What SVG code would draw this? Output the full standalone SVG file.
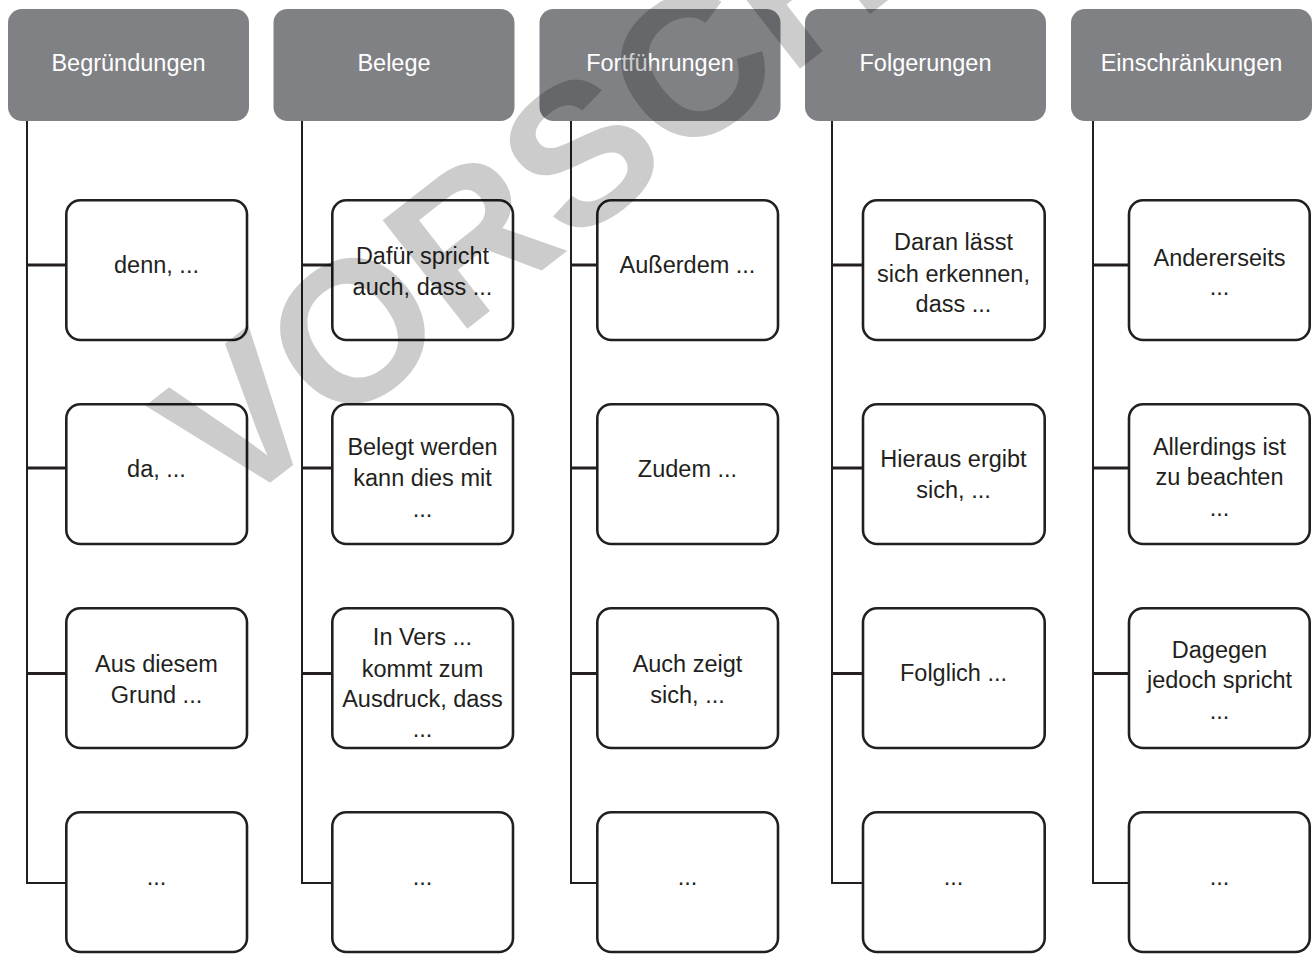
<svg xmlns="http://www.w3.org/2000/svg" width="1316" height="960" viewBox="0 0 1316 960">
  <style>
    .hdr { fill: #808185; }
    .hdr-text { fill: #ffffff; font-family: "Liberation Sans", Arial, sans-serif; font-size: 23.5px; text-anchor: middle; }
    .box { fill: #ffffff; stroke: #231f20; stroke-width: 2.6; }
    .lbl { fill: #231f20; font-family: "Liberation Sans", Arial, sans-serif; font-size: 23.5px; text-anchor: middle; }
    .trunk { stroke: #231f20; stroke-width: 2; fill: none; }
    .branch { stroke: #231f20; stroke-width: 3; fill: none; }
    .foot { stroke: #231f20; stroke-width: 2; fill: none; }
    .mark { fill: #000000; fill-opacity: 0.2; font-family: "Liberation Sans", Arial, sans-serif; font-weight: bold; font-size: 200px; }
  </style>
  <rect width="1316" height="960" fill="#ffffff"/>

  <!-- connectors: one trunk per column with branches to its boxes -->
  <g id="connectors">
    <path class="trunk" d="M27 121 V884"/>
    <path class="branch" d="M27 265 H66 M27 468 H66 M27 673.5 H66"/>
    <path class="foot" d="M26 883 H66"/>

    <path class="trunk" d="M302 121 V884"/>
    <path class="branch" d="M302 265 H332 M302 468 H332 M302 673.5 H332"/>
    <path class="foot" d="M301 883 H332"/>

    <path class="trunk" d="M571 121 V884"/>
    <path class="branch" d="M571 265 H597 M571 468 H597 M571 673.5 H597"/>
    <path class="foot" d="M570 883 H597"/>

    <path class="trunk" d="M832 121 V884"/>
    <path class="branch" d="M832 265 H863 M832 468 H863 M832 673.5 H863"/>
    <path class="foot" d="M831 883 H863"/>

    <path class="trunk" d="M1093 121 V884"/>
    <path class="branch" d="M1093 265 H1129 M1093 468 H1129 M1093 673.5 H1129"/>
    <path class="foot" d="M1092 883 H1129"/>
  </g>

  <!-- column headers -->
  <g id="head-begruendungen">
    <rect class="hdr" x="8" y="9" width="241" height="112" rx="14"/>
    <text class="hdr-text" x="128.5" y="71">Begründungen</text>
  </g>
  <g id="head-belege">
    <rect class="hdr" x="273.5" y="9" width="241" height="112" rx="14"/>
    <text class="hdr-text" x="394" y="71">Belege</text>
  </g>
  <g id="head-fortfuehrungen">
    <rect class="hdr" x="539.5" y="9" width="241" height="112" rx="14"/>
    <text class="hdr-text" x="660" y="71">Fortführungen</text>
  </g>
  <g id="head-folgerungen">
    <rect class="hdr" x="805" y="9" width="241" height="112" rx="14"/>
    <text class="hdr-text" x="925.5" y="71">Folgerungen</text>
  </g>
  <g id="head-einschraenkungen">
    <rect class="hdr" x="1071" y="9" width="241" height="112" rx="14"/>
    <text class="hdr-text" x="1191.5" y="71">Einschränkungen</text>
  </g>

  <!-- Begründungen -->
  <g id="begr-1">
    <rect class="box" x="66.3" y="200.3" width="180.7" height="139.7" rx="14"/>
    <text class="lbl" x="156.5" y="273">denn, ...</text>
  </g>
  <g id="begr-2">
    <rect class="box" x="66.3" y="404.3" width="180.7" height="139.7" rx="14"/>
    <text class="lbl" x="156.5" y="477">da, ...</text>
  </g>
  <g id="begr-3">
    <rect class="box" x="66.3" y="608.3" width="180.7" height="139.7" rx="14"/>
    <text class="lbl" x="156.5" y="672">Aus diesem</text>
    <text class="lbl" x="156.5" y="703">Grund ...</text>
  </g>
  <g id="begr-4">
    <rect class="box" x="66.3" y="812.3" width="180.7" height="139.7" rx="14"/>
    <text class="lbl" x="156.5" y="885">...</text>
  </g>

  <!-- Belege -->
  <g id="bel-1">
    <rect class="box" x="332.3" y="200.3" width="180.7" height="139.7" rx="14"/>
    <text class="lbl" x="422.5" y="264">Dafür spricht</text>
    <text class="lbl" x="422.5" y="295">auch, dass ...</text>
  </g>
  <g id="bel-2">
    <rect class="box" x="332.3" y="404.3" width="180.7" height="139.7" rx="14"/>
    <text class="lbl" x="422.5" y="455">Belegt werden</text>
    <text class="lbl" x="422.5" y="486">kann dies mit</text>
    <text class="lbl" x="422.5" y="517">...</text>
  </g>
  <g id="bel-3">
    <rect class="box" x="332.3" y="608.3" width="180.7" height="139.7" rx="14"/>
    <text class="lbl" x="422.5" y="645">In Vers ...</text>
    <text class="lbl" x="422.5" y="677">kommt zum</text>
    <text class="lbl" x="422.5" y="707">Ausdruck, dass</text>
    <text class="lbl" x="422.5" y="737">...</text>
  </g>
  <g id="bel-4">
    <rect class="box" x="332.3" y="812.3" width="180.7" height="139.7" rx="14"/>
    <text class="lbl" x="422.5" y="885">...</text>
  </g>

  <!-- Fortführungen -->
  <g id="fort-1">
    <rect class="box" x="597.3" y="200.3" width="180.7" height="139.7" rx="14"/>
    <text class="lbl" x="687.5" y="273">Außerdem ...</text>
  </g>
  <g id="fort-2">
    <rect class="box" x="597.3" y="404.3" width="180.7" height="139.7" rx="14"/>
    <text class="lbl" x="687.5" y="477">Zudem ...</text>
  </g>
  <g id="fort-3">
    <rect class="box" x="597.3" y="608.3" width="180.7" height="139.7" rx="14"/>
    <text class="lbl" x="687.5" y="672">Auch zeigt</text>
    <text class="lbl" x="687.5" y="703">sich, ...</text>
  </g>
  <g id="fort-4">
    <rect class="box" x="597.3" y="812.3" width="180.7" height="139.7" rx="14"/>
    <text class="lbl" x="687.5" y="885">...</text>
  </g>

  <!-- Folgerungen -->
  <g id="folg-1">
    <rect class="box" x="863" y="200.3" width="181.7" height="139.7" rx="14"/>
    <text class="lbl" x="953.5" y="250">Daran lässt</text>
    <text class="lbl" x="953.5" y="281.5">sich erkennen,</text>
    <text class="lbl" x="953.5" y="312">dass ...</text>
  </g>
  <g id="folg-2">
    <rect class="box" x="863" y="404.3" width="181.7" height="139.7" rx="14"/>
    <text class="lbl" x="953.5" y="467">Hieraus ergibt</text>
    <text class="lbl" x="953.5" y="498">sich, ...</text>
  </g>
  <g id="folg-3">
    <rect class="box" x="863" y="608.3" width="181.7" height="139.7" rx="14"/>
    <text class="lbl" x="953.5" y="681">Folglich ...</text>
  </g>
  <g id="folg-4">
    <rect class="box" x="863" y="812.3" width="181.7" height="139.7" rx="14"/>
    <text class="lbl" x="953.5" y="885">...</text>
  </g>

  <!-- Einschränkungen -->
  <g id="ein-1">
    <rect class="box" x="1129" y="200.3" width="180.7" height="139.7" rx="14"/>
    <text class="lbl" x="1219.5" y="266">Andererseits</text>
    <text class="lbl" x="1219.5" y="295">...</text>
  </g>
  <g id="ein-2">
    <rect class="box" x="1129" y="404.3" width="180.7" height="139.7" rx="14"/>
    <text class="lbl" x="1219.5" y="455">Allerdings ist</text>
    <text class="lbl" x="1219.5" y="485">zu beachten</text>
    <text class="lbl" x="1219.5" y="516">...</text>
  </g>
  <g id="ein-3">
    <rect class="box" x="1129" y="608.3" width="180.7" height="139.7" rx="14"/>
    <text class="lbl" x="1219.5" y="658">Dagegen</text>
    <text class="lbl" x="1219.5" y="688">jedoch spricht</text>
    <text class="lbl" x="1219.5" y="719">...</text>
  </g>
  <g id="ein-4">
    <rect class="box" x="1129" y="812.3" width="180.7" height="139.7" rx="14"/>
    <text class="lbl" x="1219.5" y="885">...</text>
  </g>

  <!-- translucent diagonal stamp laid over the chart -->
  <text id="stamp" class="mark" transform="translate(229 515) rotate(-38)">VORSCHAU</text>
</svg>
